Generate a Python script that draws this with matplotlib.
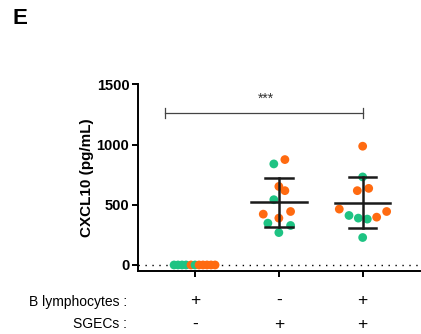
import numpy as np
import matplotlib
matplotlib.use("Agg")
from matplotlib import pyplot as plt

# CXCL10 concentrations (pg/mL)
g0_vals = [0, 0, 0, 0, 0, 0, 0, 0, 0, 0, 0]
g0_cols = ['g', 'g', 'g', 'g', 'o', 'g', 'o', 'o', 'o', 'o', 'o']
g1_vals = [839, 875, 652, 617, 542, 422, 444, 389, 347, 328, 269]
g1_cols = ['g', 'o', 'o', 'o', 'g', 'o', 'o', 'o', 'g', 'g', 'g']
g2_vals = [986, 731, 617, 636, 464, 411, 389, 381, 397, 228, 444]
g2_cols = ['o', 'g', 'o', 'o', 'o', 'g', 'g', 'g', 'o', 'g', 'o']

b_lymph = ['+', '-', '+']
sgecs = ['-', '+', '+']

# horizontal swarm offsets (layout only)
g0_dx = [-0.25, -0.203, -0.155, -0.107, -0.048, 0, 0.048, 0.095, 0.143, 0.191, 0.239]
g1_dx = [-0.06, 0.072, 0, 0.072, -0.06, -0.186, 0.14, 0, -0.131, 0.14, 0]
g2_dx = [0, 0, -0.064, 0.072, -0.279, -0.163, -0.052, 0.055, 0.167, 0, 0.286]

colours = {'g': '#1ec383', 'o': '#ff6a10'}

plt.rcParams['font.family'] = ['Liberation Sans', 'DejaVu Sans']

fig = plt.figure(figsize=(4.21, 3.34), dpi=100)
ax = fig.add_axes([137.7/421, 1 - 271/334, (420 - 137.7)/421, (271 - 84.3)/334])

groups = [(g0_vals, g0_cols, g0_dx), (g1_vals, g1_cols, g1_dx), (g2_vals, g2_cols, g2_dx)]

ax.axhline(0, c='black', lw=1, ls=(0, (1, 4)), zorder=1)

for i, (vals, cols, dx) in enumerate(groups):
    for v, c, d in zip(vals, cols, dx):
        ax.scatter(i + d, v, s=40, c=colours[c], edgecolors='none', zorder=3)
    if i > 0:
        m = np.mean(vals)
        sd = np.std(vals, ddof=1)
        ax.plot([i - 0.33, i + 0.33], [m, m], c='#1a1a1a', lw=1.8, zorder=4)
        ax.plot([i, i], [m - sd, m + sd], c='#1a1a1a', lw=1.8, zorder=4)
        for y in (m - sd, m + sd):
            ax.plot([i - 0.165, i + 0.165], [y, y], c='#1a1a1a', lw=1.8, zorder=4)

# significance bracket
ax.plot([-0.36, 2], [1264, 1264], c='#444444', lw=0.9)
for x in (-0.36, 2):
    ax.plot([x, x], [1224, 1304], c='#444444', lw=0.9)
ax.text(0.85, 1320, '***', ha='center', va='bottom', fontsize=10, color='#333333')

ax.set_xlim([-0.684, 2.684])
ax.set_ylim([-50, 1500])

ax.set_yticks([0, 500, 1000, 1500])
ax.set_yticklabels(['0', '500', '1000', '1500'], fontweight='bold', fontsize=10.5)
ax.set_xticks([0, 1, 2])
ax.set_xticklabels(['', '', ''])

ax.spines['top'].set_visible(False)
ax.spines['right'].set_visible(False)
ax.spines['left'].set_bounds(-50, 1500)
for s in ('left', 'bottom'):
    ax.spines[s].set_linewidth(1.4)
ax.tick_params(axis='both', width=1.4, length=4, pad=2)

ax.set_ylabel('CXCL10 (pg/mL)', fontweight='bold', fontsize=11, labelpad=2)

# condition table below the axis
for i in range(3):
    fig.text((195 + i*83.8)/421, 1 - 300/334, b_lymph[i], ha='center', va='center', fontsize=12.5)
    fig.text((195 + i*83.8)/421, 1 - 324/334, sgecs[i], ha='center', va='center', fontsize=12.5)
fig.text(127/421, 1 - 302/334, 'B lymphocytes :', ha='right', va='center', fontsize=10)
fig.text(127/421, 1 - 324/334, 'SGECs :', ha='right', va='center', fontsize=10)

fig.text(12/421, 1 - 18/334, 'E', ha='left', va='center', fontsize=16, fontweight='bold')

plt.savefig('out.png', dpi=100)
plt.close()
